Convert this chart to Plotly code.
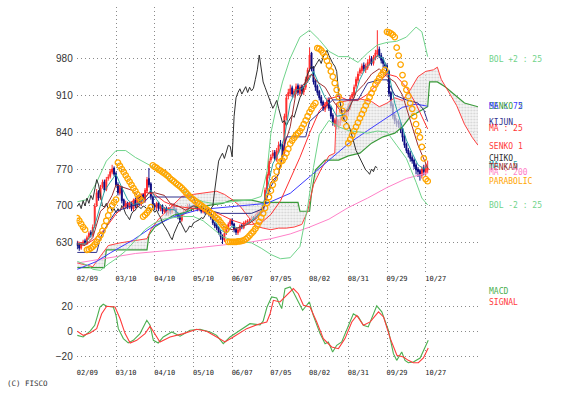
import plotly.graph_objects as go

# ---------------- data ----------------
tick_pos = [0, 20, 40, 60, 80, 100, 120, 140, 160, 180]
tick_labels = ["02/09", "03/10", "04/10", "05/10", "06/07", "07/05", "08/02", "08/31", "09/29", "10/27"]
price_ticks = [630, 700, 770, 840, 910, 980]
macd_ticks = [-20, 0, 20]

close = [
    625, 620, 628, 632, 630, 640, 648, 645, 660, 700,
    725, 715, 735, 745, 730, 750, 755, 765, 770, 760,
    740, 725, 735, 710, 700, 705, 699, 705, 695, 710,
    700, 715, 705, 720, 712, 730, 750, 740, 718, 700,
    698, 705, 695, 700, 690, 695, 687, 695, 690, 700,
    695, 685, 680, 674, 685, 690, 692, 700, 698, 695,
    700, 698, 694, 697, 690, 694, 688, 692, 684, 678,
    668, 662, 658, 650, 642, 636, 648, 658, 665, 672,
    665, 655, 650, 655, 662, 660, 668, 670, 672, 674,
    678, 676, 682, 688, 690, 695, 700, 730, 760, 785,
    793, 800, 790, 805, 815, 813, 793, 870, 905, 915,
    922, 912, 918, 926, 915, 925, 918, 923, 940, 958,
    986, 960, 935, 925, 915, 905, 895, 885, 892, 900,
    885, 870, 858, 862, 852, 860, 865, 872, 868, 880,
    890, 905, 912, 925, 940, 950, 958, 965, 960, 965,
    972, 978, 970, 982, 990, 995, 985, 976, 970, 965,
    955, 913, 890, 870, 862, 858, 855, 845, 830, 815,
    805, 798, 790, 785, 775, 768, 765, 760, 770, 765,
    775, 772]

open_ = [
    630, 626, 620, 628, 634, 630, 641, 650, 646, 662,
    702, 728, 716, 736, 746, 731, 752, 756, 764, 772,
    762, 741, 724, 736, 712, 698, 706, 698, 706, 694,
    712, 700, 716, 704, 722, 711, 728, 752, 742, 717,
    702, 697, 706, 694, 701, 689, 696, 686, 696, 689,
    702, 694, 686, 681, 673, 686, 689, 693, 701, 697,
    694, 701, 699, 693, 698, 689, 695, 687, 693, 685,
    679, 667, 663, 659, 651, 643, 635, 649, 657, 666,
    673, 666, 656, 649, 654, 663, 659, 669, 669, 673,
    673, 679, 675, 683, 687, 691, 694, 702, 732, 758,
    787, 795, 802, 788, 806, 818, 815, 800, 868, 908,
    913, 924, 910, 917, 928, 913, 927, 916, 925, 938,
    960, 990, 962, 937, 927, 917, 906, 897, 883, 890,
    902, 887, 872, 856, 864, 850, 858, 866, 874, 866,
    878, 888, 906, 910, 927, 938, 952, 956, 967, 958,
    962, 970, 980, 970, 980, 988, 997, 985, 978, 968,
    966, 955, 915, 892, 872, 860, 860, 856, 847, 832,
    817, 806, 800, 792, 787, 778, 770, 767, 758, 772,
    763, 768]

high = [
    634, 630, 631, 636, 638, 644, 652, 654, 665, 705,
    732, 730, 740, 750, 750, 755, 760, 770, 778, 775,
    765, 745, 740, 738, 714, 710, 708, 708, 708, 714,
    716, 719, 718, 724, 724, 734, 755, 772, 745, 720,
    705, 708, 708, 703, 703, 698, 699, 698, 698, 704,
    705, 697, 689, 684, 688, 693, 695, 704, 704, 700,
    703, 703, 701, 700, 700, 697, 697, 695, 695, 688,
    682, 670, 666, 661, 654, 646, 652, 662, 669, 676,
    677, 668, 658, 658, 665, 666, 671, 673, 675, 677,
    681, 681, 685, 691, 693, 698, 704, 735, 765, 790,
    798, 806, 806, 810, 822, 825, 818, 875, 912, 922,
    930, 928, 922, 932, 932, 930, 930, 928, 945, 962,
    1000, 992, 965, 940, 930, 920, 910, 900, 897, 905,
    906, 890, 876, 866, 868, 864, 870, 877, 878, 885,
    895, 910, 916, 930, 945, 955, 962, 970, 972, 970,
    978, 985, 984, 986, 996, 1033, 1002, 990, 982, 972,
    970, 958, 918, 896, 876, 866, 864, 860, 850, 836,
    820, 810, 804, 796, 790, 782, 774, 770, 775, 778,
    780, 786]

low = [
    618, 615, 617, 624, 626, 626, 636, 640, 642, 658,
    698, 710, 712, 733, 726, 728, 748, 752, 760, 756,
    736, 720, 720, 705, 694, 694, 694, 694, 690, 690,
    696, 696, 700, 700, 706, 706, 724, 735, 712, 696,
    692, 692, 690, 690, 685, 685, 682, 682, 684, 685,
    690, 680, 675, 668, 670, 682, 685, 690, 694, 690,
    690, 694, 690, 690, 686, 686, 684, 684, 680, 674,
    664, 658, 654, 646, 636, 628, 632, 645, 654, 662,
    662, 650, 645, 645, 650, 656, 656, 665, 665, 668,
    670, 672, 672, 680, 684, 688, 690, 698, 728, 752,
    782, 790, 786, 784, 800, 808, 788, 795, 862, 902,
    908, 906, 905, 912, 910, 908, 912, 910, 920, 933,
    955, 955, 930, 918, 910, 900, 890, 880, 878, 885,
    880, 865, 852, 850, 845, 845, 852, 862, 862, 862,
    872, 882, 900, 905, 922, 932, 946, 950, 955, 952,
    958, 966, 966, 966, 976, 982, 980, 970, 962, 960,
    950, 907, 885, 865, 855, 850, 848, 838, 822, 810,
    800, 792, 784, 780, 770, 760, 755, 748, 752, 758,
    758, 762]

# Moving averages / bands sampled as (day index, value)
ma5_x = [0, 4, 8, 11, 14, 17, 20, 23, 26, 29, 32, 35, 38, 41, 44, 47, 50, 53, 56, 59, 62, 65, 68, 71,
         74, 77, 80, 83, 86, 89, 92, 95, 98, 101, 104, 107, 110, 113, 116, 119, 122, 125, 128, 131,
         134, 137, 140, 143, 146, 149, 152, 155, 158, 161, 164, 167, 170, 173, 176, 179, 181]
ma5_y = [628, 628, 650, 690, 728, 745, 760, 735, 712, 702, 707, 715, 730, 712, 697, 693, 693, 683,
         688, 700, 700, 696, 690, 672, 655, 648, 662, 658, 662, 670, 678, 690, 730, 780, 800, 830,
         895, 920, 922, 935, 955, 930, 905, 890, 870, 872, 885, 905, 940, 962, 972, 985, 980, 950,
         895, 860, 825, 800, 778, 770, 776]

ma25_x = [0, 5, 10, 15, 20, 25, 30, 35, 40, 45, 50, 55, 60, 65, 70, 75, 80, 85, 90, 95, 100, 105,
          110, 115, 120, 125, 130, 135, 140, 145, 150, 155, 160, 165, 170, 175, 181]
ma25_y = [632, 628, 640, 660, 685, 702, 712, 726, 722, 708, 700, 697, 695, 694, 690, 682, 673, 667,
          665, 668, 684, 710, 750, 792, 838, 880, 903, 908, 900, 900, 912, 932, 950, 945, 925, 893, 846]

ma75_x = [0, 10, 17, 29, 39, 50, 63, 80, 98, 110, 120, 130, 140, 150, 160, 168, 175, 181]
ma75_y = [580, 595, 611, 636, 661, 680, 693, 699, 705, 724, 755, 787, 818, 843, 868, 887, 893, 889]

ma200_x = [0, 30, 60, 90, 100, 110, 120, 130, 140, 150, 160, 170, 181]
ma200_y = [592, 610, 620, 632, 638, 647, 660, 675, 697, 715, 735, 752, 763]

bolu_x = [0, 5, 10, 15, 20, 25, 30, 35, 40, 45, 50, 55, 60, 65, 70, 75, 80, 85, 90, 95, 98, 100, 103,
          106, 110, 115, 120, 125, 130, 135, 140, 145, 150, 155, 160, 165, 170, 175, 178, 181]
bolu_y = [708, 712, 745, 785, 805, 805, 792, 782, 772, 760, 742, 728, 716, 708, 705, 706, 708, 710,
          712, 718, 765, 838, 890, 935, 980, 1020, 1033, 1015, 993, 983, 983, 972, 990, 1005, 1010,
          1012, 1020, 1039, 1030, 983]

boll_x = [0, 5, 8, 12, 16, 20, 25, 30, 35, 40, 45, 50, 55, 60, 65, 70, 75, 80, 85, 90, 95, 100, 105,
          110, 115, 119, 122, 125, 130, 135, 140, 145, 150, 155, 160, 165, 170, 175, 178, 181]
boll_y = [595, 588, 580, 578, 590, 600, 615, 635, 655, 668, 675, 678, 680, 680, 672, 657, 642, 635,
          632, 630, 620, 608, 600, 602, 623, 698, 773, 835, 862, 850, 843, 840, 838, 842, 840, 815,
          790, 745, 715, 702]

# Ichimoku
tenkan_x = [0, 4, 8, 10, 12, 15, 18, 20, 24, 28, 31, 35, 37, 40, 45, 48, 52, 56, 60, 64, 68, 72, 76,
            80, 84, 88, 92, 96, 100, 104, 107, 110, 113, 118, 121, 124, 128, 132, 136, 140, 144, 148,
            152, 156, 160, 164, 168, 172, 176, 181]
tenkan_y = [628, 625, 640, 665, 690, 700, 720, 740, 735, 730, 720, 715, 725, 725, 720, 705, 700, 692,
            700, 698, 690, 675, 660, 655, 660, 665, 675, 690, 745, 760, 815, 850, 915, 935, 950, 935,
            925, 900, 880, 880, 915, 930, 950, 960, 945, 935, 910, 860, 815, 772]

kijun_x = [0, 10, 12, 16, 20, 28, 34, 37, 60, 62, 68, 74, 90, 96, 100, 104, 106, 108, 118, 120, 126,
           132, 145, 150, 156, 160, 164, 170, 176, 179, 181]
kijun_y = [612, 612, 640, 668, 690, 700, 705, 717, 717, 700, 692, 686, 686, 695, 737, 760, 800, 831,
           831, 860, 880, 901, 901, 933, 939, 939, 910, 901, 895, 882, 860]

senko1_x = [0, 8, 12, 16, 22, 30, 36, 38, 42, 46, 50, 54, 60, 66, 72, 76, 80, 84, 88, 92, 96, 100,
            104, 108, 112, 116, 119, 122, 126, 130, 133, 134, 140, 146, 152, 156, 160, 164, 168,
            172, 176, 180, 184, 186, 188, 192, 196, 200, 204, 207]
senko1_y = [592, 585, 605, 625, 630, 635, 638, 655, 675, 690, 705, 718, 722, 725, 728, 722, 712, 700,
            680, 662, 658, 655, 658, 658, 660, 665, 690, 740, 770, 795, 800, 895, 900, 903, 898, 888,
            895, 905, 900, 920, 945, 955, 958, 963, 940, 915, 890, 855, 830, 815]

senko2_x = [0, 14, 15, 36, 37, 40, 45, 50, 56, 62, 75, 80, 90, 95, 114, 115, 120, 121, 123, 128,
            135, 140, 146, 152, 158, 164, 168, 172, 178, 181, 182, 186, 190, 196, 200, 207]
senko2_y = [583, 583, 617, 617, 645, 660, 672, 683, 688, 698, 705, 711, 711, 707, 707, 690, 690, 724,
            768, 787, 787, 795, 800, 819, 831, 838, 850, 869, 882, 888, 935, 935, 926, 907, 895, 888]

# Parabolic SAR, one value per trading day
sar = [677, 672, 666, 660, 655,
       617, 618, 620, 623, 627, 632, 638, 645, 653, 662, 672, 682, 692, 701, 707, 712,
       782, 776, 770, 764, 758, 752, 746, 740, 734, 728, 722, 716, 710,
       680, 683, 687, 692, 698,
       777, 774, 772, 769, 767, 764, 762, 759, 756, 752, 749, 746, 743, 740, 737, 734, 730,
       726, 722, 718, 715, 712, 709, 706, 704, 701, 698, 696, 693, 690, 687, 684, 680, 677,
       674, 669, 664, 660, 655,
       632, 632, 632, 632, 632, 633, 633, 634, 635, 637, 640, 644, 648, 652, 657, 663, 670,
       678, 686, 696, 706, 717, 729, 740, 752, 765, 776, 784, 786, 792, 800, 808, 818, 824,
       829, 834, 838, 842, 848, 855, 862, 870, 878, 884, 890, 895,
       999, 998, 995, 990, 983, 975, 966, 955, 945, 933, 920, 907, 893, 880, 866, 851,
       819, 826, 834, 842, 850, 858, 866, 874, 882, 890, 898, 906, 914, 922, 930, 936, 942,
       948, 953, 958,
       1030, 1029, 1027, 1024, 1020, 1000, 985, 968, 948, 932, 920, 908, 895, 884, 870, 855,
       842, 830, 812, 790,
       751, 747]

# MACD panel sampled as (day index, value)
macd_x = [0, 3, 6.6, 9, 10.5, 11.7, 13.4, 15.2, 18.6, 20, 21.2, 23.8, 26.3, 28.9, 32.4, 35.9, 37.6,
          39.3, 41.8, 44.4, 48.8, 53.1, 58.2, 63.4, 68.6, 72, 75.4, 78.9, 84.1, 89.2, 94.4, 96, 98,
          100.4, 103, 105.6, 107.3, 109.9, 111.6, 114.2, 116.4, 118.5, 119.9, 121.9, 125.4, 128,
          129.7, 131.9, 134, 136.6, 140, 142.6, 145.2, 147.8, 150.3, 152.9, 154.7, 157.3, 160.7,
          163.3, 165, 167.6, 169.3, 171, 173.6, 177.1, 180.2, 181.3]
macd_y = [-3.4, -4.7, 0, 4.7, 12.7, 19.4, 21.6, 20, 19.4, 12.7, 2, -6, -9.5, -7.4, -2, 8.7, 4.7,
          -7.4, -9.5, -4.7, -0.7, -4.1, 0.7, 1.5, -0.7, -3.4, -10.1, -4.7, 0.7, 6, 5, 8, 19.4,
          27.5, 26.7, 18.1, 34.2, 35.5, 31.5, 23.5, 16.8, 20.8, 23.5, 12.7, -2, -10.1, -8.7,
          -16.8, -11.4, -8.7, 4.7, 14, 11.4, 4.7, 3.4, 12.7, 20.3, 15.5, 0.7, -18.1, -23.5,
          -16.8, -23.5, -25.4, -24.8, -21.6, -11.4, -7.4]

signal_x = [0, 3.1, 6.6, 10, 12.6, 15.2, 19.5, 22.1, 24.7, 27.3, 30.7, 35, 37.6, 40.2, 42.7, 47.9,
            54.8, 61.7, 66.8, 72, 76.3, 80.6, 87.5, 94.4, 97.9, 99.6, 101.3, 104.7, 108.2, 111.6,
            114.2, 116.8, 120.2, 123.7, 127.1, 131.4, 134.9, 138.3, 141.8, 144.4, 147.8, 151.3,
            155.6, 158.2, 161.7, 165.1, 168.5, 171, 173.6, 176.2, 178.8, 181.3]
signal_y = [-0.1, -3.4, -1.5, 2, 14, 20, 19.4, 10, -2, -9.5, -7.4, -2, 3.9, -2, -8.7, -4.7, -2, 1.5,
            -0.1, -4.7, -8.7, -4.7, 2, 6, 7.4, 14, 24.8, 23.5, 28.9, 34.2, 30.1, 20.8, 19.4, 7.4,
            -6, -12.7, -14.1, -6, 7.4, 12.7, 4.7, 7.4, 15.5, 11.4, -6, -19.4, -20.8, -23.5, -25.4,
            -25.4, -21.6, -13.5]

# ---------------- figure ----------------
W, H = 566, 396
days = list(range(len(close)))
CHIKO_SHIFT = 26

C_BOL = "#6fd38a"
C_S2 = "#3a9a3a"
C_S1 = "#ff4040"
C_MA75 = "#3b3bff"
C_MA25 = "#ff3030"
C_MA200 = "#ff80c8"
C_MA5 = "#2aa3a3"
C_TEN = "#9c3030"
C_KIJ = "#30308c"
C_CHI = "#303030"
C_SAR = "#ffa600"

fig = go.Figure()

def line(x, y, color, width=1.0, **kw):
    fig.add_trace(go.Scatter(x=x, y=y, mode="lines", line=dict(color=color, width=width),
                             hoverinfo="skip", showlegend=False, **kw))

# cloud
line(senko2_x, senko2_y, C_S2, 1.2)
line(senko1_x, senko1_y, C_S1, 1.0, fill="tonexty", fillcolor="rgba(235,235,235,0.6)",
     fillpattern=dict(shape=".", fgcolor="#b0b0b0", bgcolor="rgba(240,240,240,0.6)", size=3, solidity=0.35))
line(ma200_x, ma200_y, C_MA200, 1.0)
line(ma75_x, ma75_y, C_MA75, 1.0)
line(bolu_x, bolu_y, C_BOL, 1.0)
line(boll_x, boll_y, C_BOL, 1.0)
line([d - CHIKO_SHIFT for d in days[CHIKO_SHIFT:]], close[CHIKO_SHIFT:], C_CHI, 1.0)

fig.add_trace(go.Candlestick(
    x=days, open=open_, high=high, low=low, close=close,
    increasing=dict(line=dict(color="#ff2a2a", width=1), fillcolor="#ff2a2a"),
    decreasing=dict(line=dict(color="#0a0a80", width=1), fillcolor="#0a0a80"),
    whiskerwidth=0, hoverinfo="skip", showlegend=False))

line(ma25_x, ma25_y, C_MA25, 1.0)
line(ma5_x, ma5_y, C_MA5, 1.0)
line(tenkan_x, tenkan_y, C_TEN, 1.0)
line(kijun_x, kijun_y, C_KIJ, 1.0)

fig.add_trace(go.Scatter(x=days, y=sar, mode="markers",
                         marker=dict(symbol="circle-open", size=5.5, color=C_SAR, line=dict(width=1.3, color=C_SAR)),
                         hoverinfo="skip", showlegend=False))

# MACD
fig.add_trace(go.Scatter(x=macd_x, y=macd_y, mode="lines", line=dict(color="#4caf50", width=1.1),
                         xaxis="x2", yaxis="y2", hoverinfo="skip", showlegend=False))
fig.add_trace(go.Scatter(x=signal_x, y=signal_y, mode="lines", line=dict(color="#ff3b3b", width=1.1),
                         xaxis="x2", yaxis="y2", hoverinfo="skip", showlegend=False))

# layout geometry (pixels -> paper)
x0_px, x1_px = 76.72, 478.0
main_top, main_bot = 7.0, 273.0
macd_top, macd_bot = 285.5, 367.0

grid = dict(showgrid=True, gridcolor="#8a8a8a", gridwidth=1, griddash="1px,3px", zeroline=False, showline=False)
xfont = dict(family="DejaVu Sans Mono", size=7, color="#222")
yfont = dict(family="Liberation Sans Narrow, Liberation Sans, Arial", size=10, color="#333")

xcommon = dict(range=[-0.3, 207], domain=[x0_px / W, x1_px / W], tickmode="array",
               tickvals=tick_pos, ticktext=tick_labels, tickfont=xfont, ticks="", ticklabelshift=10,
               fixedrange=True, **grid)

fig.update_layout(
    width=W, height=H, margin=dict(l=0, r=0, t=0, b=0),
    paper_bgcolor="white", plot_bgcolor="white", showlegend=False,
    xaxis=dict(anchor="y", rangeslider=dict(visible=False), **xcommon),
    yaxis=dict(domain=[1 - main_bot / H, 1 - main_top / H], range=[573, 1077], tickmode="array",
               tickvals=price_ticks, tickfont=yfont, ticks="", ticklabelstandoff=3, fixedrange=True, **grid),
    xaxis2=dict(anchor="y2", **xcommon),
    yaxis2=dict(anchor="x2", domain=[1 - macd_bot / H, 1 - macd_top / H], range=[-28.85, 36.7],
                tickmode="array", tickvals=macd_ticks, tickfont=yfont, ticks="", ticklabelstandoff=3,
                fixedrange=True, **grid),
)

# right-hand labels
labels = [
    ("BOL +2 : 25", 978, C_BOL), ("SENKO 2", 888, C_S2), ("MA : 75", 888, C_MA75),
    ("KIJUN", 859, C_KIJ), ("MA : 25", 846, C_MA25), ("SENKO 1", 812, C_S1),
    ("CHIKO", 789, C_CHI), ("MA : 5", 776, C_MA5), ("TENKAN", 772, C_TEN),
    ("MA : 200", 763, C_MA200), ("PARABOLIC", 746, C_SAR), ("BOL -2 : 25", 701, C_BOL),
]
lab_font = "DejaVu Sans Mono"
for text, yv, col in labels:
    fig.add_annotation(x=487 / W, xref="paper", y=yv, yref="y", text=text, showarrow=False,
                       xanchor="left", yanchor="middle", font=dict(family=lab_font, size=8, color=col))
for text, yv, col in [("MACD", 31.5, "#4caf50"), ("SIGNAL", 22.9, "#ff3b3b")]:
    fig.add_annotation(x=487 / W, xref="paper", y=yv, yref="y2", text=text, showarrow=False,
                       xanchor="left", yanchor="middle", font=dict(family=lab_font, size=8, color=col))
fig.add_annotation(x=5 / W, xref="paper", y=1 - 383.7 / H, yref="paper", text="(C) FISCO",
                   showarrow=False, xanchor="left", yanchor="middle",
                   font=dict(family=lab_font, size=7.5, color="#333"))

fig.write_html("out.html", config={"displayModeBar": False},
               post_script="document.body.style.margin='0';document.body.style.padding='0';")
